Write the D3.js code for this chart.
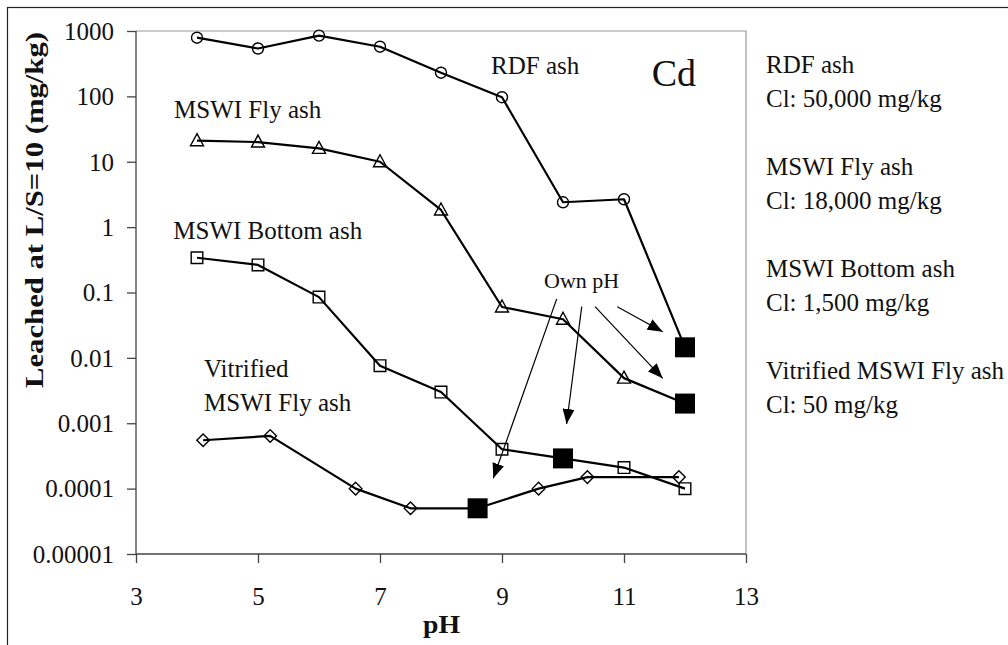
<!DOCTYPE html>
<meta charset="utf-8">
<title>Cd leaching vs pH</title>
<body>
<script src="https://cdn.jsdelivr.net/npm/d3@7"></script>
<style>
html, body {
    margin: 0;
    background: #fff;
}
svg {
    display: block;
    font-family: "Liberation Serif", "Times New Roman", serif;
}
</style>
<svg></svg>
<script>
var width = 1008,
    height = 645;

// series: pH and leached amount (mg/kg); ownIdx marks the "own pH" point
var rdfPH = [4, 5, 6, 7, 8, 9, 10, 11, 12],
    rdfVal = [790, 540, 850, 575, 230, 97, 2.4, 2.67, 0.0145],
    rdfOwn = 8;

var flyPH = [4, 5, 6, 7, 8, 9, 10, 11, 12],
    flyVal = [21, 20, 16, 10, 1.83, 0.06, 0.039, 0.0049, 0.002],
    flyOwn = 8;

var bottomPH = [4, 5, 6, 7, 8, 9, 10, 11, 12],
    bottomVal = [0.34, 0.264, 0.085, 0.0076, 0.003, 0.0004, 0.00029, 0.00021, 0.0001],
    bottomOwn = 6;

var vitPH = [4.1, 5.2, 6.6, 7.5, 8.6, 9.6, 10.4, 11.9],
    vitVal = [0.00055, 0.00064, 0.0001, 0.00005, 0.00005, 0.0001, 0.00015, 0.00015],
    vitOwn = 4;

var xTicks = [3, 5, 7, 9, 11, 13];
var yTicks = [1e-5, 1e-4, 1e-3, 1e-2, 1e-1, 1, 10, 100, 1000];
var yTickLabels = ["0.00001", "0.0001", "0.001", "0.01", "0.1", "1", "10", "100", "1000"];

var sideLabels = [
    ["RDF ash", "Cl: 50,000 mg/kg"],
    ["MSWI Fly ash", "Cl: 18,000 mg/kg"],
    ["MSWI Bottom ash", "Cl: 1,500 mg/kg"],
    ["Vitrified MSWI Fly ash", "Cl: 50 mg/kg"]
];

var x = d3.scaleLinear().domain([3, 13]).range([136, 746]),
    y = d3.scaleLog().domain([1e-5, 1000]).range([554, 31]);

var svg = d3.select("svg")
    .attr("width", width)
    .attr("height", height);

svg.append("rect")
    .attr("width", width).attr("height", height)
    .attr("fill", "#fff");

// outer frame
svg.append("rect")
    .attr("x", 7.5).attr("y", 7.5)
    .attr("width", 1100).attr("height", 700)
    .attr("fill", "none")
    .attr("stroke", "#222")
    .attr("stroke-width", 1.2);

svg.append("defs").append("marker")
    .attr("id", "head")
    .attr("markerUnits", "userSpaceOnUse")
    .attr("markerWidth", 16).attr("markerHeight", 12)
    .attr("refX", 15).attr("refY", 6)
    .attr("orient", "auto")
  .append("path")
    .attr("d", "M0,0L15,6L0,12Z")
    .attr("fill", "#000");

// plot area top / right border
svg.append("path")
    .attr("d", "M" + x(3) + "," + y(1000) + "H" + x(13) + "V" + y(1e-5))
    .attr("fill", "none")
    .attr("stroke", "#999")
    .attr("stroke-width", 1.2);

var yAxis = svg.append("g")
    .attr("transform", "translate(" + x(3) + ",0)")
    .call(d3.axisLeft(y)
        .tickValues(yTicks)
        .tickSize(9)
        .tickPadding(13)
        .tickFormat(function(d, i) { return yTickLabels[i]; }));

var xAxis = svg.append("g")
    .attr("transform", "translate(0," + y(1e-5) + ")")
    .call(d3.axisBottom(x)
        .tickValues(xTicks)
        .tickSize(9)
        .tickFormat(d3.format("d")));

[yAxis, xAxis].forEach(function(a) {
    a.select(".domain").attr("stroke", "#444").attr("stroke-width", 1.3);
    a.selectAll(".tick line").attr("stroke", "#444").attr("stroke-width", 1.3);
    a.selectAll("text")
        .attr("font-family", "Liberation Serif, Times New Roman, serif")
        .attr("font-size", 25)
        .attr("fill", "#111");
});
yAxis.selectAll("text").attr("dy", "0.33em");
xAxis.selectAll("text").attr("y", 51).attr("dy", 0);
// the x axis domain line should not run past the ticks
xAxis.select(".domain").attr("d", "M" + x(3) + ",0H" + x(13));
yAxis.select(".domain").attr("d", "M0," + y(1e-5) + "V" + y(1000));

// axis titles
svg.append("text")
    .attr("transform", "translate(43,388)rotate(-90)")
    .attr("font-size", 25)
    .attr("font-weight", "bold")
    .attr("textLength", 356)
    .attr("lengthAdjust", "spacingAndGlyphs")
    .attr("fill", "#111")
    .text("Leached at L/S=10 (mg/kg)");

svg.append("text")
    .attr("x", 423).attr("y", 633)
    .attr("font-size", 25)
    .attr("font-weight", "bold")
    .attr("textLength", 37)
    .attr("lengthAdjust", "spacingAndGlyphs")
    .attr("fill", "#111")
    .text("pH");

// series
var series = [
    {ph: rdfPH, val: rdfVal, own: rdfOwn, shape: "circle"},
    {ph: flyPH, val: flyVal, own: flyOwn, shape: "triangle"},
    {ph: bottomPH, val: bottomVal, own: bottomOwn, shape: "square"},
    {ph: vitPH, val: vitVal, own: vitOwn, shape: "diamond"}
];

var shapes = {
    circle: "M5.5,0A5.5,5.5 0 1,1 -5.5,0A5.5,5.5 0 1,1 5.5,0Z",
    triangle: "M0,-7L6.5,5L-6.5,5Z",
    square: "M-5.8,-5.8H5.8V5.8H-5.8Z",
    diamond: "M0,-6.3L6.3,0L0,6.3L-6.3,0Z",
    own: "M-10,-10H10V10H-10Z"
};

var line = d3.line()
    .x(function(d) { return x(d[0]); })
    .y(function(d) { return y(d[1]); });

series.forEach(function(s) {
    var pts = s.ph.map(function(p, i) { return [p, s.val[i], i === s.own]; });

    svg.append("path")
        .attr("d", line(pts))
        .attr("fill", "none")
        .attr("stroke", "#000")
        .attr("stroke-width", 2.2)
        .attr("stroke-linejoin", "round");

    svg.selectAll(null)
        .data(pts)
        .enter().append("path")
        .attr("transform", function(d) { return "translate(" + x(d[0]) + "," + y(d[1]) + ")"; })
        .attr("d", function(d) { return d[2] ? shapes.own : shapes[s.shape]; })
        .attr("fill", function(d) { return d[2] ? "#000" : "none"; })
        .attr("stroke", "#000")
        .attr("stroke-width", function(d) { return d[2] ? 0 : 1.4; });
});

// "Own pH" arrows: [from pH, from value, to pH, to value]
var arrows = [
    [9.897, 0.080, 8.857, 0.000144],
    [10.307, 0.0607, 10.059, 0.000975],
    [10.525, 0.0607, 11.634, 0.00487],
    [10.89, 0.0607, 11.634, 0.0251]
];

svg.selectAll(".arrow")
    .data(arrows)
    .enter().append("line")
    .attr("class", "arrow")
    .attr("x1", function(d) { return x(d[0]); })
    .attr("y1", function(d) { return y(d[1]); })
    .attr("x2", function(d) { return x(d[2]); })
    .attr("y2", function(d) { return y(d[3]); })
    .attr("stroke", "#000")
    .attr("stroke-width", 1.2)
    .attr("marker-end", "url(#head)");

// in-plot labels: [text, pH, value, size]
var labels = [
    ["RDF ash", 8.82, 220, 25],
    ["MSWI Fly ash", 3.623, 47.2, 25],
    ["MSWI Bottom ash", 3.611, 0.652, 25],
    ["Vitrified", 4.115, 0.00515, 25],
    ["MSWI Fly ash", 4.115, 0.00154, 25],
    ["Own pH", 9.689, 0.116, 22],
    ["Cd", 11.454, 144, 38]
];

svg.selectAll(".lab")
    .data(labels)
    .enter().append("text")
    .attr("class", "lab")
    .attr("x", function(d) { return x(d[1]); })
    .attr("y", function(d) { return y(d[2]); })
    .attr("font-size", function(d) { return d[3]; })
    .attr("fill", "#111")
    .text(function(d) { return d[0]; });

// right-hand notes
var side = svg.append("g").attr("transform", "translate(766,73)");
sideLabels.forEach(function(pair, i) {
    pair.forEach(function(t, j) {
        side.append("text")
            .attr("y", i * 102 + j * 34)
            .attr("font-size", 25)
            .attr("fill", "#111")
            .text(t);
    });
});
</script>
